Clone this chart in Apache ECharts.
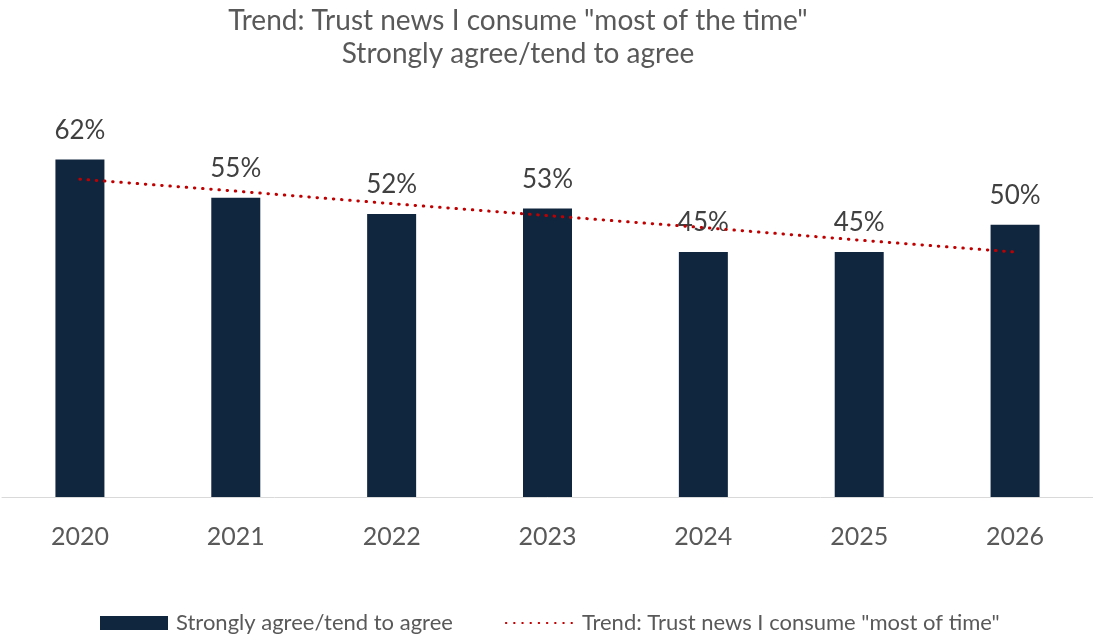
<!DOCTYPE html>
<html>
<head>
<meta charset="utf-8">
<script src="https://cdn.jsdelivr.net/npm/echarts@6/dist/echarts.min.js"></script>
<style>
  html, body { margin: 0; padding: 0; background: #ffffff; }
  #chart { width: 1093px; height: 634px; }
</style>
</head>
<body>
<div id="chart"></div>
<script>
// Survey years
const years = ['2020', '2021', '2022', '2023', '2024', '2025', '2026'];
// Share who strongly agree / tend to agree (%)
const agreeShare = [62, 55, 52, 53, 45, 45, 50];
// Linear trend line values (%)
const trendShare = [58.4, 56.2, 53.9, 51.7, 49.5, 47.2, 45.0];

const barName = 'Strongly agree/tend to agree';
const trendName = 'Trend: Trust news I consume "most of time"';
const FONT = 'Lato, "Open Sans", sans-serif';

const chart = echarts.init(document.getElementById('chart'), null, { renderer: 'canvas' });

chart.setOption({
  animation: false,
  backgroundColor: '#ffffff',
  title: {
    text: 'Trend: Trust news I consume "most of the time"\nStrongly agree/tend to agree',
    left: 513,
    top: -1,
    textAlign: 'center',
    textStyle: {
      fontFamily: FONT,
      fontSize: 28,
      fontWeight: 'normal',
      color: '#595959',
      lineHeight: 33
    }
  },
  legend: {
    left: 95,
    top: 607,
    itemGap: 52,
    itemWidth: 68,
    itemHeight: 14,
    textStyle: {
      fontFamily: FONT,
      fontSize: 22,
      color: '#595959',
      padding: [0, 0, 0, 3]
    },
    data: [
      { name: barName, icon: 'rect' },
      { name: trendName, itemStyle: { opacity: 0 } }
    ]
  },
  grid: {
    left: 2,
    right: -1,
    top: 116,
    bottom: 137,
    containLabel: false
  },
  xAxis: {
    type: 'category',
    data: years,
    boundaryGap: true,
    axisLine: { show: true, lineStyle: { color: '#d9d9d9', width: 1 } },
    axisTick: { show: false },
    axisLabel: {
      fontFamily: FONT,
      fontSize: 25,
      color: '#595959',
      margin: 27
    },
    splitLine: { show: false }
  },
  yAxis: {
    type: 'value',
    min: 0,
    max: 70,
    show: false,
    splitLine: { show: false }
  },
  series: [
    {
      name: barName,
      type: 'bar',
      data: agreeShare,
      barWidth: 49,
      itemStyle: { color: '#10263f' },
      label: {
        show: true,
        position: 'top',
        distance: 16,
        formatter: '{c}%',
        fontFamily: FONT,
        fontSize: 26,
        color: '#404040'
      },
      z: 2
    },
    {
      name: trendName,
      type: 'line',
      data: trendShare,
      symbol: 'none',
      smooth: false,
      lineStyle: {
        color: '#c00000',
        width: 3,
        type: [0.5, 7.7],
        cap: 'round'
      },
      itemStyle: { color: '#c00000' },
      z: 3
    }
  ]
});
</script>
</body>
</html>
